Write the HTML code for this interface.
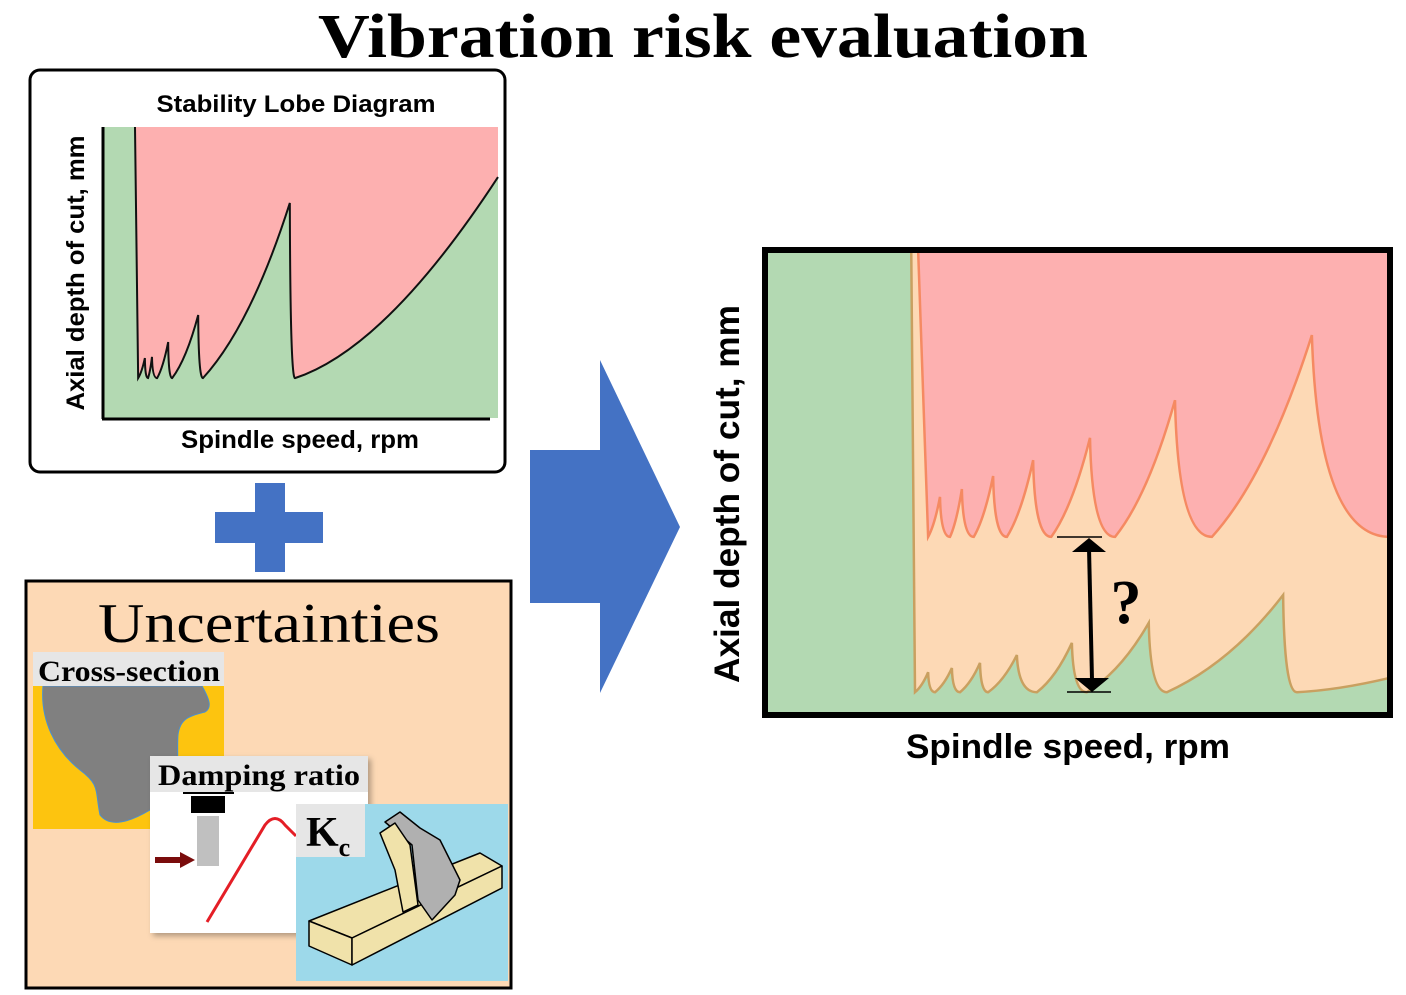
<!DOCTYPE html>
<html><head><meta charset="utf-8"><style>
html,body{margin:0;padding:0;background:#fff;}
svg{display:block;}
.serif{font-family:"Liberation Serif",serif;}
.sans{font-family:"Liberation Sans",sans-serif;}
</style></head><body>
<svg id="root" width="1406" height="995" viewBox="0 0 1406 995" xmlns="http://www.w3.org/2000/svg">
<defs>
<filter id="sh" x="-10%" y="-10%" width="130%" height="130%"><feDropShadow dx="3" dy="3" stdDeviation="3" flood-color="#000" flood-opacity="0.3"/></filter>
</defs>
<text x="703" y="57" text-anchor="middle" class="serif" font-weight="bold" font-size="62" textLength="770" lengthAdjust="spacingAndGlyphs">Vibration risk evaluation</text>

<!-- left chart box -->
<rect x="30" y="70" width="475" height="402" rx="10" fill="#fff" stroke="#000" stroke-width="3"/>
<text x="296" y="112" text-anchor="middle" class="sans" font-weight="bold" font-size="24" textLength="279" lengthAdjust="spacingAndGlyphs">Stability Lobe Diagram</text>
<rect x="103" y="127" width="395" height="291" fill="#b3d9b2"/>
<g id="slChart"></g>
<line x1="103" y1="127" x2="103" y2="419" stroke="#000" stroke-width="3"/>
<line x1="102" y1="419" x2="490" y2="419" stroke="#000" stroke-width="3"/>
<text transform="translate(84,273) rotate(-90)" text-anchor="middle" class="sans" font-weight="bold" font-size="25" textLength="275" lengthAdjust="spacingAndGlyphs">Axial depth of cut, mm</text>
<text x="300" y="448" text-anchor="middle" class="sans" font-weight="bold" font-size="25" textLength="238" lengthAdjust="spacingAndGlyphs">Spindle speed, rpm</text>

<!-- plus -->
<g fill="#4472c4">
<rect x="255" y="483" width="30" height="89"/>
<rect x="215" y="512" width="108" height="31"/>
</g>

<!-- big arrow -->
<path d="M530,450 L600,450 L600,360 L680,527 L600,693 L600,603 L530,603 Z" fill="#4472c4"/>

<!-- uncertainties -->
<rect x="26" y="581" width="485" height="407" fill="#fdd9b5" stroke="#000" stroke-width="3"/>
<text x="269" y="642" text-anchor="middle" class="serif" font-size="56" textLength="342" lengthAdjust="spacingAndGlyphs">Uncertainties</text>
<g>
<rect x="33" y="686" width="191" height="143" fill="#fdc40f"/>
<path d="M43,686 L202,686 C210,700 212,708 205,712 C190,716 180,718 178,735 C176,760 185,790 150,810 C130,822 110,828 100,815 C95,790 100,785 80,770 C55,750 40,720 43,686 Z" fill="#808080" stroke="#4a90d0" stroke-width="1"/>
<rect x="33" y="652" width="191" height="34" fill="#e6e6e6"/>
<text x="129" y="681" text-anchor="middle" class="serif" font-weight="bold" font-size="30" textLength="182" lengthAdjust="spacingAndGlyphs">Cross-section</text>
</g>
<g filter="url(#sh)">
<rect x="150" y="756" width="218" height="177" fill="#fff"/>
</g>
<rect x="150" y="756" width="218" height="36" fill="#e6e6e6"/>
<text x="259" y="785" text-anchor="middle" class="serif" font-weight="bold" font-size="30" textLength="202" lengthAdjust="spacingAndGlyphs">Damping ratio</text>
<line x1="183" y1="793" x2="234" y2="793" stroke="#000" stroke-width="2"/>
<rect x="191" y="796" width="34" height="17" fill="#000"/>
<rect x="197" y="816" width="22" height="50" fill="#c0c0c0"/>
<path d="M155,857 L180,857 L180,852 L195,860 L180,868 L180,863 L155,863 Z" fill="#7a0c0c"/>
<path d="M207,922 L265,825 Q275,812 285,825 L296,836" fill="none" stroke="#e41e26" stroke-width="3"/>
<g>
<rect x="296" y="804" width="212" height="177" fill="#9dd9ea"/>
<rect x="296" y="804" width="69" height="53" fill="#e6e6e6"/>
<text x="306" y="846" class="serif" font-weight="bold" font-size="42">K<tspan font-size="26" dy="10">c</tspan></text>
<g stroke="#000" stroke-width="1.5" stroke-linejoin="round">
<path d="M309,921 L480,853 L502,866 L352,938 Z" fill="#f0e2aa"/>
<path d="M309,921 L352,938 L352,965 L309,946 Z" fill="#f0e2aa"/>
<path d="M352,938 L502,866 L502,888 L352,965 Z" fill="#f0e2aa"/>
<path d="M385,822 L400,812 L420,828 L440,840 L460,880 L455,895 L432,920 L418,900 L412,845 Z" fill="#b0b0b0"/>
<path d="M380,833 L395,823 L410,845 L418,905 L403,912 L395,870 Z" fill="#f0e2aa"/>
</g>
</g>

<!-- right chart -->
<rect x="765" y="250" width="625" height="465" fill="#b3d9b2"/>
<g id="rChart"></g>
<rect x="765" y="250" width="625" height="465" fill="none" stroke="#000" stroke-width="6"/>
<text transform="translate(739,494) rotate(-90)" text-anchor="middle" class="sans" font-weight="bold" font-size="35" textLength="378" lengthAdjust="spacingAndGlyphs">Axial depth of cut, mm</text>
<text x="1068" y="758" text-anchor="middle" class="sans" font-weight="bold" font-size="34" textLength="324" lengthAdjust="spacingAndGlyphs">Spindle speed, rpm</text>
<g>
<line x1="1057" y1="537" x2="1102" y2="537" stroke="#000" stroke-width="1.5"/>
<line x1="1067" y1="692" x2="1111" y2="692" stroke="#000" stroke-width="1.5"/>
<line x1="1089" y1="548" x2="1092" y2="680" stroke="#000" stroke-width="4"/>
<path d="M1072,552 L1089,538 L1106,552 Z" fill="#000"/>
<path d="M1075,678 L1092,692 L1109,678 Z" fill="#000"/>
<text x="1126" y="623" text-anchor="middle" class="serif" font-weight="bold" font-size="62">?</text>
</g>
</svg>
<script>
// Left SLD data (rpm 0..100, depth 0..10)
const slStartRpm = 8.1;
const slMinRpm = [8.9, 11.4, 13.7, 17.5, 25.3, 48.6];
const slPeakRpm = [10.6, 12.4, 16.5, 24.1, 47.3];
const slPeakDepth = [2.06, 2.10, 2.61, 3.54, 7.39];
const slMinDepth = 1.37;
const slEndDepth = 8.28;
// Right chart upper (mean-limit) curve
const upStartRpm = 24.5;
const upMinRpm = [26.1, 29.6, 33.4, 38.7, 45.8, 56, 71.5];
const upPeakRpm = [28, 31.5, 36.5, 42.9, 52, 65.6, 87.5];
const upPeakDepth = [4.69, 4.86, 5.14, 5.48, 5.96, 6.77, 8.17];
const upMinDepth = 3.83;
const upEndDepth = 3.83;
// Right chart lower curve
const loStartRpm = 23.4;
const loMinRpm = [24, 27.2, 31.2, 35.7, 43.5, 51.5, 64.3, 85.1];
const loPeakRpm = [26.1, 29.9, 34.4, 40.3, 49.1, 61.4, 82.9];
const loPeakDepth = [0.92, 1.01, 1.12, 1.29, 1.55, 1.98, 2.58];
const loMinDepth = 0.49;
const loEndDepth = 0.8;

const NS = "http://www.w3.org/2000/svg";
function lobePath(xs, ys, startRpm, mins, peaks, pd, minD, endD) {
  let d = `M${xs(startRpm)},${ys(10)} L${xs(mins[0])},${ys(minD)}`;
  for (let i = 0; i < mins.length; i++) {
    const x0 = xs(mins[i]), y0 = ys(minD);
    if (i < peaks.length) {
      const px = xs(peaks[i]), py = ys(pd[i]);
      const x1 = xs(mins[i + 1] !== undefined ? mins[i + 1] : 100), y1 = ys(minD);
      d += ` Q${x0 + (px - x0) * 0.55},${y0 - (y0 - py) * 0.3} ${px},${py}`;
      d += ` Q${px + (x1 - px) * 0.08},${y1} ${x1},${y1}`;
    } else {
      const x1 = xs(100), y1 = ys(endD);
      d += ` Q${x0 + (x1 - x0) * 0.45},${y0 - (y0 - y1) * 0.15} ${x1},${y1}`;
    }
  }
  return d;
}
function addPath(g, d, fill, stroke, sw, name) {
  const p = document.createElementNS(NS, "path");
  p.setAttribute("d", d);
  p.setAttribute("fill", fill);
  p.setAttribute("stroke", stroke);
  p.setAttribute("stroke-width", sw);
  
  
  g.appendChild(p);
}
// left
const lx = v => 103 + v * 3.95, ly = v => 418 - v * 29.1;
const slG = document.getElementById("slChart");
const slD = lobePath(lx, ly, slStartRpm, slMinRpm, slPeakRpm, slPeakDepth, slMinDepth, slEndDepth);
addPath(slG, slD + ` L${lx(100)},${ly(10)} Z`, "#fdb0b0", "none", 0, "sld-unstable-region");
addPath(slG, slD, "none", "#111", 2, "sld-stability-curve");
// right
const rx = v => 765 + v * 6.25, ry = v => 715 - v * 46.5;
const rG = document.getElementById("rChart");
const loD = lobePath(rx, ry, loStartRpm, loMinRpm, loPeakRpm, loPeakDepth, loMinDepth, loEndDepth);
const upD = lobePath(rx, ry, upStartRpm, upMinRpm, upPeakRpm, upPeakDepth, upMinDepth, upEndDepth);
addPath(rG, loD + ` L${rx(100)},${ry(10)} Z`, "#fdd9b5", "none", 0, "uncertain-region");
addPath(rG, upD + ` L${rx(100)},${ry(10)} Z`, "#fdb0b0", "none", 0, "unstable-region");
addPath(rG, loD, "none", "#c9a060", 2.5, "lower-stability-curve");
addPath(rG, upD, "none", "#f58a62", 2.5, "upper-stability-curve");
</script>
</body></html>
